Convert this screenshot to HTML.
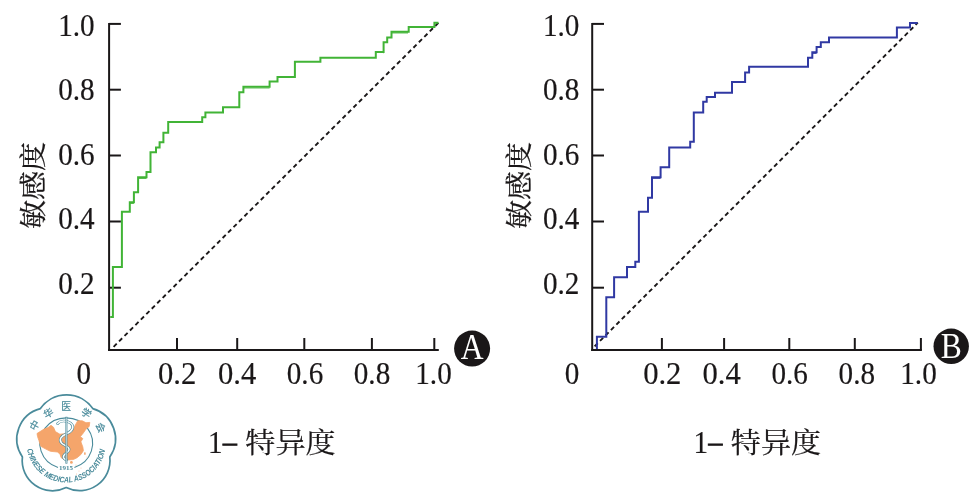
<!DOCTYPE html>
<html lang="zh"><head><meta charset="utf-8"><title>ROC</title>
<style>html,body{margin:0;padding:0;background:#fff}svg{display:block}</style></head>
<body>
<svg width="977" height="503" viewBox="0 0 977 503">
<rect width="977" height="503" fill="#fff"/>
<g stroke="#1a1718" stroke-width="2" fill="none" stroke-linecap="butt">
<path d="M109.1 22.9V351"/>
<path d="M108.1 350H438.8"/>
<path d="M109.1 23.9H120.89999999999999"/>
<path d="M109.1 89.7H120.89999999999999"/>
<path d="M109.1 155.5H120.89999999999999"/>
<path d="M109.1 221.5H120.89999999999999"/>
<path d="M109.1 287.7H120.89999999999999"/>
<path d="M177 338V350"/>
<path d="M237.2 338V350"/>
<path d="M304.3 338V350"/>
<path d="M371.9 338V350"/>
<path d="M434.3 338V350"/>
</g>
<text transform="translate(94.6,35.9) scale(0.9,1)" font-family="'Liberation Serif', serif" font-size="32.4" fill="#1a1718" stroke="#1a1718" stroke-width="0.2" text-anchor="end">1.0</text>
<text transform="translate(94.6,100.0) scale(0.9,1)" font-family="'Liberation Serif', serif" font-size="32.4" fill="#1a1718" stroke="#1a1718" stroke-width="0.2" text-anchor="end">0.8</text>
<text transform="translate(94.6,164.8) scale(0.9,1)" font-family="'Liberation Serif', serif" font-size="32.4" fill="#1a1718" stroke="#1a1718" stroke-width="0.2" text-anchor="end">0.6</text>
<text transform="translate(94.6,229.2) scale(0.9,1)" font-family="'Liberation Serif', serif" font-size="32.4" fill="#1a1718" stroke="#1a1718" stroke-width="0.2" text-anchor="end">0.4</text>
<text transform="translate(94.6,293.6) scale(0.9,1)" font-family="'Liberation Serif', serif" font-size="32.4" fill="#1a1718" stroke="#1a1718" stroke-width="0.2" text-anchor="end">0.2</text>
<text transform="translate(83.8,384) scale(0.9,1)" font-family="'Liberation Serif', serif" font-size="32.4" fill="#1a1718" stroke="#1a1718" stroke-width="0.2" text-anchor="middle">0</text>
<text transform="translate(177.1,384) scale(0.945,1)" font-family="'Liberation Serif', serif" font-size="32.4" fill="#1a1718" stroke="#1a1718" stroke-width="0.2" text-anchor="middle">0.2</text>
<text transform="translate(237.1,384) scale(0.945,1)" font-family="'Liberation Serif', serif" font-size="32.4" fill="#1a1718" stroke="#1a1718" stroke-width="0.2" text-anchor="middle">0.4</text>
<text transform="translate(305,384) scale(0.9,1)" font-family="'Liberation Serif', serif" font-size="32.4" fill="#1a1718" stroke="#1a1718" stroke-width="0.2" text-anchor="middle">0.6</text>
<text transform="translate(372,384) scale(0.9,1)" font-family="'Liberation Serif', serif" font-size="32.4" fill="#1a1718" stroke="#1a1718" stroke-width="0.2" text-anchor="middle">0.8</text>
<text transform="translate(433.5,384) scale(0.9,1)" font-family="'Liberation Serif', serif" font-size="32.4" fill="#1a1718" stroke="#1a1718" stroke-width="0.2" text-anchor="middle">1.0</text>
<g stroke="#1a1718" stroke-width="2" fill="none" stroke-linecap="butt">
<path d="M592.2 22.9V351"/>
<path d="M591.2 350H921.9"/>
<path d="M592.2 23.9H604.0"/>
<path d="M592.2 89.7H604.0"/>
<path d="M592.2 155.5H604.0"/>
<path d="M592.2 221.5H604.0"/>
<path d="M592.2 287.7H604.0"/>
<path d="M661.9 338V350"/>
<path d="M724.1 338V350"/>
<path d="M789.3 338V350"/>
<path d="M854.8 338V350"/>
<path d="M920.9 338V350"/>
</g>
<text transform="translate(579.4,35.9) scale(0.9,1)" font-family="'Liberation Serif', serif" font-size="32.4" fill="#1a1718" stroke="#1a1718" stroke-width="0.2" text-anchor="end">1.0</text>
<text transform="translate(579.4,100.0) scale(0.9,1)" font-family="'Liberation Serif', serif" font-size="32.4" fill="#1a1718" stroke="#1a1718" stroke-width="0.2" text-anchor="end">0.8</text>
<text transform="translate(579.4,164.8) scale(0.9,1)" font-family="'Liberation Serif', serif" font-size="32.4" fill="#1a1718" stroke="#1a1718" stroke-width="0.2" text-anchor="end">0.6</text>
<text transform="translate(579.4,229.2) scale(0.9,1)" font-family="'Liberation Serif', serif" font-size="32.4" fill="#1a1718" stroke="#1a1718" stroke-width="0.2" text-anchor="end">0.4</text>
<text transform="translate(579.4,293.6) scale(0.9,1)" font-family="'Liberation Serif', serif" font-size="32.4" fill="#1a1718" stroke="#1a1718" stroke-width="0.2" text-anchor="end">0.2</text>
<text transform="translate(572.1,384) scale(0.9,1)" font-family="'Liberation Serif', serif" font-size="32.4" fill="#1a1718" stroke="#1a1718" stroke-width="0.2" text-anchor="middle">0</text>
<text transform="translate(662.3,384) scale(0.945,1)" font-family="'Liberation Serif', serif" font-size="32.4" fill="#1a1718" stroke="#1a1718" stroke-width="0.2" text-anchor="middle">0.2</text>
<text transform="translate(721.7,384) scale(0.945,1)" font-family="'Liberation Serif', serif" font-size="32.4" fill="#1a1718" stroke="#1a1718" stroke-width="0.2" text-anchor="middle">0.4</text>
<text transform="translate(789.7,384) scale(0.9,1)" font-family="'Liberation Serif', serif" font-size="32.4" fill="#1a1718" stroke="#1a1718" stroke-width="0.2" text-anchor="middle">0.6</text>
<text transform="translate(856.8,384) scale(0.9,1)" font-family="'Liberation Serif', serif" font-size="32.4" fill="#1a1718" stroke="#1a1718" stroke-width="0.2" text-anchor="middle">0.8</text>
<text transform="translate(918.5,384) scale(0.9,1)" font-family="'Liberation Serif', serif" font-size="32.4" fill="#1a1718" stroke="#1a1718" stroke-width="0.2" text-anchor="middle">1.0</text>
<path d="M113.6 346.8L438.7 22.5" stroke="#1a1718" stroke-width="1.9" stroke-dasharray="4.4 3.3" fill="none"/>
<path d="M594.6 346.4L917.8 22.7" stroke="#1a1718" stroke-width="1.9" stroke-dasharray="4.4 3.3" fill="none"/>
<path d="M110.2 317H112.9V267H121.9V211.8H129.8V202.3H133.9V192.3H138.1V177.2H146.5V172H150.5V152.2H156V147.4H159.6V142.2H163.4V132.7H168.2V122.0H202.2V117.3H205.4V112.5H223V107.3H239.3V92.3H243.4V86.8H269.6V81.5H277.5V77H294.9V61.7H320.4V57.7H375.8V52H383.6V42.2H387.2V37.4H391.5V31.7H408.7V26.9H434.4V22.7H438.5" stroke="#41b436" stroke-width="2" fill="none" stroke-linejoin="miter"/>
<path d="M596.9 349V336.7H606.3V297.2H614.1V277.2H627V267H635.3V261.7H638.9V211.8H648V197.7H652V177.2H660.6V167.2H669.2V147.4H690.2V141.7H693.8V112.5H703.2V101.8H706.7V97H715V92.7H732V82H745.1V72.5H749.1V66.7H808V57.7H812.3V52.2H816.6V47H820.8V42.3H829V37.5H896.9V27.4H910V22.9H917.6" stroke="#3039a3" stroke-width="2" fill="none" stroke-linejoin="miter"/>
<path d="M243.6 88H269.6M138.3 178.4H146.5M130 203.4H133.9M384 53H383.6M391.7 32.9H408" stroke="#41b436" stroke-width="1.2" fill="none" opacity="0.85"/>
<path d="M652.2 178.4H660.6M812.5 53.4H816.6M323 0" stroke="#3039a3" stroke-width="1.2" fill="none" opacity="0.85"/>
<text transform="translate(42.9,185.5) rotate(-90) scale(1,0.935)" font-family="'Liberation Serif', 'Noto Serif CJK SC', serif" font-size="29.0" fill="#1a1718" stroke="#1a1718" stroke-width="0.25" text-anchor="middle">敏感度</text>
<text transform="translate(529.3,185.5) rotate(-90) scale(1,0.935)" font-family="'Liberation Serif', 'Noto Serif CJK SC', serif" font-size="29.0" fill="#1a1718" stroke="#1a1718" stroke-width="0.25" text-anchor="middle">敏感度</text>
<text transform="translate(207.9,452.6) scale(0.9,1)" font-family="'Liberation Serif', serif" font-size="32.4" fill="#1a1718" stroke="#1a1718" stroke-width="0.2" text-anchor="start">1</text>
<text transform="translate(222.9,451.2) scale(1.0,1)" font-family="'Liberation Serif', serif" font-size="27.5" fill="#1a1718" stroke="#1a1718" stroke-width="1.0" text-anchor="start">–</text>
<text transform="translate(245.3,452.6) scale(1,0.93)" font-family="'Liberation Serif', 'Noto Serif CJK SC', serif" font-size="30.1" fill="#1a1718" stroke="#1a1718" stroke-width="0.25">特异度</text>
<text transform="translate(693.4,452.6) scale(0.9,1)" font-family="'Liberation Serif', serif" font-size="32.4" fill="#1a1718" stroke="#1a1718" stroke-width="0.2" text-anchor="start">1</text>
<text transform="translate(708.4,451.2) scale(1.0,1)" font-family="'Liberation Serif', serif" font-size="27.5" fill="#1a1718" stroke="#1a1718" stroke-width="1.0" text-anchor="start">–</text>
<text transform="translate(730.8,452.6) scale(1,0.93)" font-family="'Liberation Serif', 'Noto Serif CJK SC', serif" font-size="30.1" fill="#1a1718" stroke="#1a1718" stroke-width="0.25">特异度</text>
<circle cx="472.1" cy="348.6" r="18" fill="#1a1718"/>
<text transform="translate(472.1,358.6) scale(0.87,1)" font-family="'Liberation Serif', serif" font-size="36.3" fill="#fff" text-anchor="middle">A</text>
<circle cx="951.2" cy="346.3" r="17.7" fill="#1a1718"/>
<text transform="translate(951.2,358.0) scale(0.87,1)" font-family="'Liberation Serif', serif" font-size="36.3" fill="#fff" text-anchor="middle">B</text>
<path d="M40.4 408.6A31.9 31.9 0 0 1 92.8 408.6A31.5 31.5 0 0 1 109.8 456.9A30.3 30.3 0 0 1 66.2 487.5A30.3 30.3 0 0 1 22.4 456.9A31.5 31.5 0 0 1 40.4 408.6Z" fill="#fff" stroke="#4a8b9b" stroke-width="1.7" stroke-linejoin="round"/>
<path d="M58 467.4A26.4 25.4 0 1 1 74.4 467.4" fill="none" stroke="#4a8b9b" stroke-width="1.1"/>
<path d="M37 433.5L44 429.1L48 427.6L51 425.3L53.5 427.2L55.4 431.6L59.9 434.2L66 433.6L72 432.3L74.5 426.5L77.7 420.8L82.2 420.8L86 422.7L89.8 422.4L89.2 426.5L86 429.1L83.4 432.9L80.3 436.7L82.8 438.6L80.9 441.8L82.8 446.9L83.4 450.7L80.9 454.5L77.1 457.7L73.3 459.6L68.2 459.9L64.4 459.6L61.2 457.7L59.9 453.9L57.4 452L50.4 451.3L45.3 448.8L40.8 446.3L38.9 440.5L37.6 436.7Z" fill="#f5a56b" stroke="#f5a56b" stroke-width="0.8" stroke-linejoin="round"/>
<circle cx="71.4" cy="462.4" r="1.4" fill="#f5a56b"/>
<ellipse cx="84.9" cy="453.6" rx="0.8" ry="1.5" fill="#f5a56b"/>
<g fill="#f5a56b" opacity="0.7"><circle cx="76" cy="465" r="0.6"/><circle cx="79" cy="471" r="0.5"/><circle cx="76.5" cy="474" r="0.5"/><circle cx="81" cy="468" r="0.5"/><circle cx="87" cy="457" r="0.5"/></g>
<path d="M57.6 423.6C60 420.5 66 420 70.5 423C75 426.5 72.5 431 67 433.5C61 436 58.5 439.5 61.5 443C64.5 446 70 446.5 69 450C68 453.5 62.5 454 63.5 457.5C64 459 65.5 459.5 66.4 460" fill="none" stroke="#4a8b9b" stroke-width="2.7" stroke-linecap="round"/>
<path d="M57.6 423.6C60 420.5 66 420 70.5 423C75 426.5 72.5 431 67 433.5C61 436 58.5 439.5 61.5 443C64.5 446 70 446.5 69 450C68 453.5 62.5 454 63.5 457.5C64 459 65.5 459.5 66.4 460" fill="none" stroke="#fff" stroke-width="1.5" stroke-linecap="round"/>
<path d="M66.4 416.8V463.6" stroke="#4a8b9b" stroke-width="2"/>
<path d="M66.4 417.5V463" stroke="#fff" stroke-width="0.6"/>
<text x="66.1" y="469.6" font-family="'Liberation Serif', serif" font-size="7" font-weight="bold" fill="#4a8b9b" text-anchor="middle">1915</text>
<text transform="translate(34.7,425.3) rotate(-60.5)" font-family="'Liberation Sans', 'Noto Sans CJK SC', sans-serif" font-size="9.8" fill="#4a8b9b" stroke="#4a8b9b" stroke-width="0.2" text-anchor="middle" dominant-baseline="central">中</text>
<text transform="translate(48.4,413.2) rotate(-30.6)" font-family="'Liberation Sans', 'Noto Sans CJK SC', sans-serif" font-size="9.8" fill="#4a8b9b" stroke="#4a8b9b" stroke-width="0.2" text-anchor="middle" dominant-baseline="central">华</text>
<text transform="translate(66.2,406.3) rotate(0.0)" font-family="'Liberation Sans', 'Noto Sans CJK SC', sans-serif" font-size="9.8" fill="#4a8b9b" stroke="#4a8b9b" stroke-width="0.2" text-anchor="middle" dominant-baseline="central">医</text>
<text transform="translate(86.3,413.2) rotate(34.3)" font-family="'Liberation Sans', 'Noto Sans CJK SC', sans-serif" font-size="9.8" fill="#4a8b9b" stroke="#4a8b9b" stroke-width="0.2" text-anchor="middle" dominant-baseline="central">学</text>
<text transform="translate(100.6,427.6) rotate(66.0)" font-family="'Liberation Sans', 'Noto Sans CJK SC', sans-serif" font-size="9.8" fill="#4a8b9b" stroke="#4a8b9b" stroke-width="0.2" text-anchor="middle" dominant-baseline="central">会</text>
<path id="arcb" d="M27.09 449.19A39.6 39.6 0 0 0 105.14 450.22" fill="none"/>
<text font-family="'Liberation Sans', sans-serif" font-size="8.1" font-weight="bold" font-style="italic" fill="#4a8b9b" textLength="110.9" lengthAdjust="spacingAndGlyphs"><textPath href="#arcb">CHINESE MEDICAL ASSOCIATION</textPath></text>
</svg>
</body></html>
